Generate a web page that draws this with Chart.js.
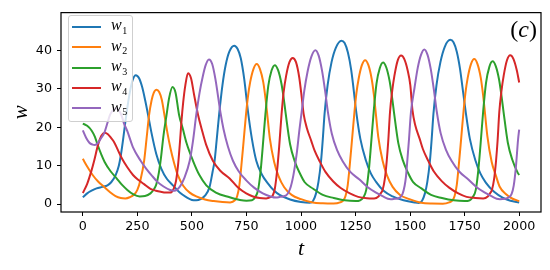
<!DOCTYPE html>
<html>
<head>
<meta charset="utf-8">
<script src="https://cdn.jsdelivr.net/npm/chart.js@4.4.0/dist/chart.umd.min.js"></script>
<style>
html,body{margin:0;padding:0;background:#fff;}
#wrap{position:relative;width:550px;height:270px;overflow:hidden;}
canvas{display:block;}
#legend{position:absolute;left:68px;top:15px;width:65px;height:107px;box-sizing:border-box;border:1px solid #cfcfcf;border-radius:3px;background:rgba(255,255,255,0.8);}
#legend .row{position:absolute;left:0;right:0;height:20px;}
#legend .sample{position:absolute;left:3.4px;top:9px;width:29px;height:2px;}
#legend .txt{position:absolute;left:42px;top:-1.5px;line-height:20px;font-family:"Liberation Serif",serif;font-size:16px;color:#000;white-space:nowrap;}
#legend .txt i{font-style:italic;}
#legend .txt span{position:relative;top:3.5px;font-size:10px;margin-left:0.5px;}
#tag{position:absolute;right:13px;top:16.5px;line-height:24px;font-family:"Liberation Serif",serif;font-size:24px;color:#000;}
</style>
</head>
<body>
<div id="wrap">
<canvas id="c" width="550" height="270"></canvas>
<div id="legend"></div>
<div id="tag">(<i>c</i>)</div>
</div>
<script>
// ---- data (pairs of [t, w]) ----
const xTicks = [0, 250, 500, 750, 1000, 1250, 1500, 1750, 2000];
const yTicks = [0, 10, 20, 30, 40];
const names = ['1', '2', '3', '4', '5'];

const w1 = [[0,1.8],[20,2.8],[40,3.5],[63,4.1],[90,4.5],[113,4.9],[130,5.7],[150,7.5],[165,10],[175,13],[185,17],[195,21.5],[205,25.5],[215,29],[228,32.3],[243,33.6],[258,32.8],[272,30.5],[286,27],[299,23.3],[315,18.5],[337,13],[360,9.2],[385,6.6],[413,4.9],[444,3.0],[475,1.8],[500,1.1],[520,1.0],[540,1.3],[560,2.2],[581,4.5],[595,8.5],[604,11.3],[614,17],[625,23.5],[640,31],[655,36.3],[672,39.8],[694,41.3],[709,40.5],[724,38],[740,32.5],[757,24.1],[775,17],[795,11.3],[820,7.8],[848,5.4],[875,3.6],[902,2.4],[950,1.2],[1000,0.55],[1040,0.35],[1055,0.8],[1069,2.8],[1080,5.8],[1092,11.3],[1100,17],[1108,23.5],[1122,31],[1140,37],[1160,40.8],[1185,42.6],[1200,42],[1215,39.5],[1230,35],[1240,30.5],[1253,24.1],[1272,17],[1298,11.3],[1320,8],[1344,5.8],[1380,3.4],[1420,2.0],[1470,1.0],[1520,0.45],[1540,0.32],[1555,0.9],[1568,2.8],[1579,5.8],[1591,11.3],[1599,17],[1607,23.5],[1621,31],[1639,37],[1659,41],[1684,42.8],[1699,42.2],[1714,39.7],[1729,35.2],[1740,30.5],[1755,24],[1774,17],[1800,11.3],[1822,8],[1847,5.6],[1885,3.2],[1924,1.7],[1960,0.9],[2000,0.45]];

const w2 = [[0,11.8],[20,9.8],[45,7.6],[70,5.9],[97,4.5],[125,3.1],[150,2.1],[174,1.6],[195,1.5],[215,1.8],[235,2.5],[250,3.7],[265,6.5],[281,11.3],[292,17],[304,23.3],[315,27],[325,29],[338,29.8],[350,29.2],[362,27.2],[374,23.3],[388,18.5],[402,14.5],[418,10.8],[435,7.6],[460,4.8],[490,3.0],[520,2.0],[560,1.2],[600,0.8],[640,0.55],[675,0.45],[697,1.0],[707,2.0],[717,4.7],[727,10.2],[737,16.4],[748,23.4],[757,28.1],[767,31.8],[782,35.2],[797,36.5],[812,35.2],[827,31.8],[837,27.7],[844,24.1],[857,17.2],[877,11],[897,7.3],[923,4.4],[957,2.4],[1000,1.3],[1054,0.4],[1100,0.2],[1150,0.15],[1179,0.45],[1194,1.0],[1204,2.1],[1214,4.9],[1224,10.5],[1234,16.9],[1245,24],[1254,28.9],[1264,32.6],[1279,36.2],[1294,37.5],[1309,36.2],[1324,32.6],[1334,28.5],[1341,24.7],[1354,17.6],[1374,11.3],[1394,7.5],[1420,4.5],[1454,2.4],[1497,1.3],[1551,0.35],[1600,0.15],[1650,0.12],[1679,0.45],[1694,1.0],[1704,2.1],[1714,5],[1724,10.6],[1734,17],[1745,24.2],[1754,29.1],[1764,32.9],[1779,36.5],[1794,37.8],[1809,36.5],[1824,32.9],[1834,28.7],[1841,25],[1854,17.8],[1874,11],[1894,7.3],[1910,4.6],[1940,2.6],[1970,1.4],[2000,0.8]];

const w3 = [[0,21],[20,20.4],[40,19.2],[55,17.6],[67,15.6],[85,12.9],[100,11],[128,8.5],[154,6.8],[180,5.0],[204,3.7],[230,2.6],[261,2.0],[285,2.1],[310,2.8],[325,3.8],[337,5.2],[348,8],[358,12],[370,18],[384,23.3],[395,27.5],[411,30.5],[425,29],[441,23.3],[459,19.5],[475,16],[505,11.3],[535,7.5],[566,4.9],[610,3.0],[673,1.8],[720,1.1],[750,0.9],[775,1.0],[790,1.8],[803,3.6],[815,8.7],[825,15.2],[837,23.5],[850,30.8],[865,34.8],[880,36.2],[895,34.9],[910,31.5],[920,27.9],[930,23.5],[950,15.6],[971,11.2],[995,8],[1017,5.7],[1056,4.0],[1100,2.4],[1150,1.6],[1200,1.0],[1250,0.8],[1271,1.0],[1286,1.8],[1299,3.7],[1311,8.9],[1321,15.5],[1333,24],[1346,31.4],[1361,35.4],[1376,36.9],[1391,35.6],[1406,32.1],[1416,28.4],[1426,24],[1446,15.9],[1467,11.4],[1491,8.1],[1513,5.8],[1552,4.1],[1596,2.4],[1646,1.6],[1700,1.0],[1750,0.8],[1773,1.0],[1788,1.9],[1801,3.7],[1813,9],[1823,15.6],[1835,24.2],[1848,31.6],[1863,35.7],[1878,37.2],[1893,35.9],[1908,32.4],[1918,28.6],[1928,24.2],[1948,16],[1969,11.5],[1993,8.2],[2000,7.6]];

const w4 = [[0,2.9],[20,5.3],[40,8.8],[52,11.3],[70,15.5],[85,17.8],[100,18.6],[115,18.2],[130,17.2],[143,16.2],[160,14.2],[180,11.8],[204,9.6],[230,7.6],[255,6.3],[281,5.2],[310,4.0],[335,3.5],[357,3.2],[380,3.0],[400,3.0],[415,3.8],[427,6],[437,10.5],[445,16],[452,21.5],[460,26.5],[470,31],[482,34.1],[496,32.8],[510,28.5],[528,23.3],[545,19.5],[565,15.5],[596,11.3],[630,8.7],[673,6.7],[710,4.4],[749,2.8],[780,2.0],[810,1.6],[840,1.5],[860,1.8],[870,2.2],[880,4.0],[890,8.5],[900,15],[911,23.5],[920,29],[932,33.5],[947,37],[962,38.1],[977,37],[992,33],[1004,27.5],[1012,23.5],[1027,19.8],[1047,16.5],[1062,14],[1087,11.0],[1112,8.4],[1148,5.9],[1182,4.2],[1224,2.8],[1262,1.9],[1302,1.55],[1335,1.5],[1355,2.0],[1365,2.8],[1374,3.7],[1384,6.5],[1393,11.3],[1400,16.5],[1408,24],[1418,29.5],[1428,33.4],[1443,37.4],[1459,38.7],[1474,37.7],[1489,34.8],[1501,31],[1511,24.4],[1524,20.5],[1544,17],[1559,14.3],[1584,11.2],[1609,8.5],[1645,6.0],[1679,4.3],[1721,2.8],[1759,1.9],[1799,1.6],[1835,1.5],[1856,2.0],[1866,2.8],[1875,3.7],[1885,6.5],[1894,11.3],[1901,16.5],[1909,24.1],[1919,29.6],[1929,33.5],[1944,37.5],[1959,38.8],[1974,37.8],[1989,34.9],[2000,31.7]];

const w5 = [[0,19.2],[15,17.3],[30,16.0],[45,15.5],[55,15.4],[70,16],[85,17.3],[98,18.5],[112,21],[125,23.3],[140,24.6],[152,25],[165,24.5],[178,23],[189,21],[204,19],[230,14.8],[265,11.3],[291,9.2],[320,7.2],[342,5.8],[370,4.6],[400,3.7],[420,3.5],[444,4.5],[465,6.8],[490,11.3],[505,16.5],[520,23.3],[535,29],[550,33.3],[563,36.2],[578,37.7],[593,36.5],[608,32.5],[620,28],[632,23.5],[645,19.5],[665,15],[688,11.3],[715,8.5],[749,6.2],[785,4.3],[825,2.8],[860,2.0],[886,1.7],[905,1.9],[930,2.2],[950,4],[965,7.5],[980,13],[993,19.5],[1003,24],[1015,29.5],[1030,34.5],[1048,38.5],[1066,40.1],[1081,38.7],[1096,34.9],[1111,29.3],[1123,24.1],[1141,18.4],[1166,14],[1191,11.2],[1226,8.4],[1268,6.4],[1306,4.4],[1344,3.0],[1376,2.0],[1398,1.4],[1412,1.3],[1430,1.4],[1450,1.6],[1465,2.6],[1475,4.8],[1481,7.1],[1485,9.7],[1495,16.9],[1504,24],[1520,30.2],[1535,35.5],[1550,38.9],[1565,40.3],[1580,38.9],[1595,35.1],[1610,29.4],[1622,24.2],[1640,18.5],[1665,14.1],[1690,11.3],[1725,8.5],[1767,6.4],[1805,4.4],[1843,3.0],[1875,2.0],[1897,1.4],[1912,1.3],[1935,1.4],[1950,1.7],[1965,2.6],[1975,4.8],[1985,9.7],[1995,16.9],[2000,19.4]];

// ---- styling ----
const colors = ['#1f77b4', '#ff7f0e', '#2ca02c', '#d62728', '#9467bd'];
const series = [w1, w2, w3, w4, w5];

const datasets = series.map((s, i) => ({
  label: 'w' + names[i],
  data: s.map(p => ({x: p[0], y: p[1]})),
  borderColor: colors[i],
  backgroundColor: colors[i],
  borderWidth: 2,
  pointRadius: 0,
  fill: false,
  cubicInterpolationMode: 'monotone',
  borderJoinStyle: 'round',
  order: series.length - 1 - i
}));

const framePlugin = {
  id: 'frame',
  afterDraw(chart) {
    const a = chart.chartArea, ctx = chart.ctx;
    ctx.save();
    ctx.strokeStyle = '#000';
    ctx.lineWidth = 1.2;
    ctx.strokeRect(a.left, a.top, a.right - a.left, a.bottom - a.top);
    ctx.restore();
  }
};

const tickFont = {family: 'DejaVu Sans', size: 12.7};

new Chart(document.getElementById('c'), {
  type: 'line',
  data: {datasets},
  options: {
    responsive: false,
    animation: false,
    devicePixelRatio: 1,
    parsing: false,
    normalized: true,
    layout: {padding: {top: 9, right: 9, left: 0, bottom: 0}},
    plugins: {legend: {display: false}, tooltip: {enabled: false}},
    scales: {
      x: {
        type: 'linear', min: -100, max: 2100,
        afterBuildTicks: s => { s.ticks = xTicks.map(v => ({value: v})); },
        afterFit: s => { s.height = 58; },
        grid: {display: true, drawOnChartArea: false, drawTicks: true, tickLength: 4, color: '#000', lineWidth: 1},
        border: {display: false},
        ticks: {color: '#000', font: tickFont, padding: 3.2, maxRotation: 0, autoSkip: false, callback: v => String(v)},
        title: {display: true, text: 't', color: '#000', font: {family: 'Liberation Serif', style: 'italic', size: 22}, padding: {top: 0, bottom: 8}}
      },
      y: {
        type: 'linear', min: -2.05, max: 49.9,
        afterBuildTicks: s => { s.ticks = yTicks.map(v => ({value: v})); },
        afterFit: s => { s.width = 61; },
        grid: {display: true, drawOnChartArea: false, drawTicks: true, tickLength: 4, color: '#000', lineWidth: 1},
        border: {display: false},
        ticks: {color: '#000', font: tickFont, padding: 5, callback: v => String(v)},
        title: {display: true, text: 'w', color: '#000', font: {family: 'Liberation Serif', style: 'italic', size: 21}, padding: {top: 8.7, bottom: 0}}
      }
    }
  },
  plugins: [framePlugin]
});

// ---- legend (HTML, real text) ----
const leg = document.getElementById('legend');
datasets.forEach((d, i) => {
  const row = document.createElement('div');
  row.className = 'row';
  row.style.top = (0.7 + i * 20.4) + 'px';
  const sample = document.createElement('div');
  sample.className = 'sample';
  sample.style.background = d.borderColor;
  const txt = document.createElement('div');
  txt.className = 'txt';
  txt.innerHTML = '<i>w</i><span>' + names[i] + '</span>';
  row.appendChild(sample);
  row.appendChild(txt);
  leg.appendChild(row);
});
</script>
</body>
</html>
